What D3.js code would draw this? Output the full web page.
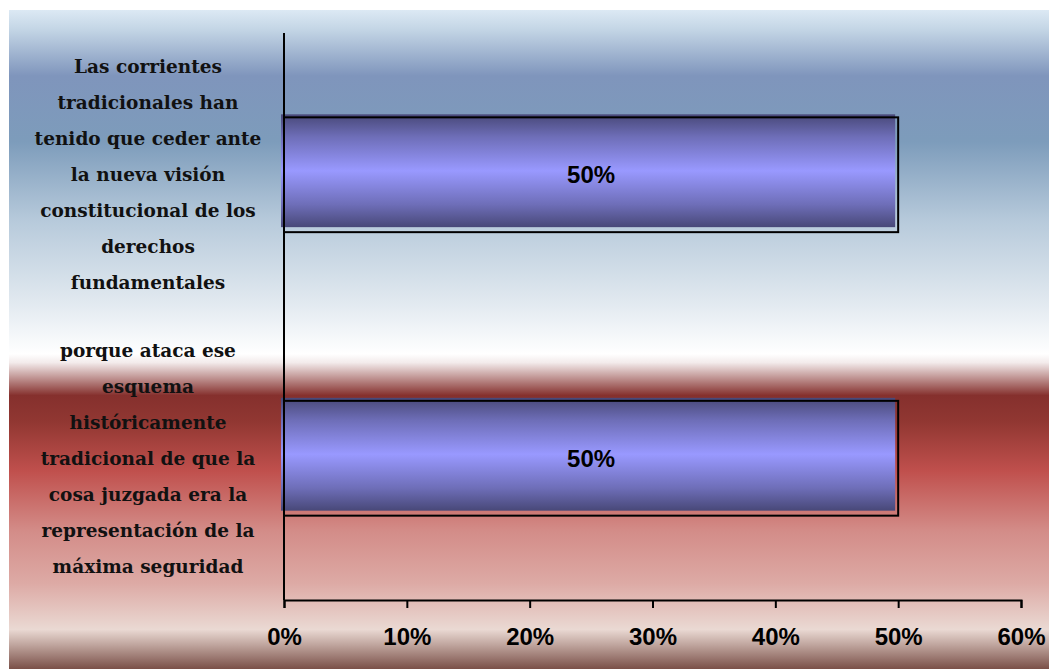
<!DOCTYPE html>
<html>
<head>
<meta charset="utf-8">
<script src="https://cdn.jsdelivr.net/npm/d3@7"></script>
<style>
  body { margin: 0; background: #fff; }
  svg { display: block; }
  .cat { font-family: "DejaVu Serif", serif; font-weight: bold; font-size: 18.5px; fill: #111; }
  .val, .tick text { font-family: "Liberation Sans", Arial, sans-serif; font-weight: bold; font-size: 24px; fill: #000; }
</style>
</head>
<body>
<svg id="chart" width="1049" height="669"></svg>
<script>
// categories, top to bottom
const categories = [
  "Las corrientes tradicionales han tenido que ceder ante la nueva visión constitucional de los derechos fundamentales",
  "porque ataca ese esquema históricamente tradicional de que la cosa juzgada era la representación de la máxima seguridad"
]
// wrapped tick labels as they appear
const labelLines = [
  ["Las corrientes", "tradicionales han", "tenido que ceder ante", "la nueva visión", "constitucional de los", "derechos", "fundamentales"],
  ["porque ataca ese", "esquema", "históricamente", "tradicional de que la", "cosa juzgada era la", "representación de la", "máxima seguridad"]
]
const values = [0.5, 0.5]
const xTicks = [0, 0.1, 0.2, 0.3, 0.4, 0.5, 0.6]

const svg = d3.select("#chart")
const defs = svg.append("defs")

// background gradient (blue top, white middle, red bottom)
const bg = defs.append("linearGradient").attr("id", "bgGrad")
  .attr("x1", 0).attr("y1", 0).attr("x2", 0).attr("y2", 1)
const bgStops = [
  [0, "#dce9f4"], [0.03, "#c3d5e5"], [0.1, "#7f95bc"], [0.2, "#7d9cbb"],
  [0.32, "#b7cadb"], [0.44, "#e0e8ef"], [0.522, "#ffffff"], [0.535, "#f3ebeb"],
  [0.585, "#85302d"], [0.625, "#913732"], [0.7, "#c0504d"], [0.79, "#d38c88"],
  [0.87, "#ddaaa5"], [0.94, "#ead9d3"], [0.962, "#c2a8a1"], [1, "#7a5048"]
]
bgStops.forEach(s => bg.append("stop").attr("offset", s[0]).attr("stop-color", s[1]))

// bar gradient: dark edges, light middle
const barGrad = defs.append("linearGradient").attr("id", "barGrad")
  .attr("x1", 0).attr("y1", 0).attr("x2", 0).attr("y2", 1)
const barStops = [[0, "#484878"], [0.2, "#6e6eb8"], [0.5, "#9999ff"], [0.8, "#6e6eb8"], [1, "#484878"]]
barStops.forEach(s => barGrad.append("stop").attr("offset", s[0]).attr("stop-color", s[1]))

svg.append("rect")
  .attr("x", 9).attr("y", 10).attr("width", 1040).attr("height", 659)
  .attr("fill", "url(#bgGrad)")

const plotTop = 33, plotBottom = 600, plotLeft = 284, plotRight = 1021

const x = d3.scaleLinear().domain([0, 0.6]).range([plotLeft, plotRight])
const y = d3.scaleBand().domain(categories).range([plotTop, plotBottom])
  .paddingInner(0.595).paddingOuter(0.2975)

// bars: fill slightly offset up-left from the outline
const bars = svg.append("g")
bars.selectAll(".barFill").data(values).enter()
  .append("rect")
  .attr("class", "barFill")
  .attr("x", x(0) - 3)
  .attr("y", (d, i) => y(categories[i]) - 3)
  .attr("width", d => x(d) - x(0))
  .attr("height", y.bandwidth() - 2)
  .attr("fill", "url(#barGrad)")
bars.selectAll(".barEdge").data(values).enter()
  .append("rect")
  .attr("class", "barEdge")
  .attr("x", x(0))
  .attr("y", (d, i) => y(categories[i]))
  .attr("width", d => x(d) - x(0))
  .attr("height", y.bandwidth())
  .attr("fill", "none")
  .attr("stroke", "#000")
  .attr("stroke-width", 2)

bars.selectAll(".val").data(values).enter()
  .append("text")
  .attr("class", "val")
  .attr("x", d => (x(0) + x(d)) / 2)
  .attr("y", (d, i) => y(categories[i]) + y.bandwidth() / 2)
  .attr("dy", "0.35em")
  .attr("text-anchor", "middle")
  .text(d => d3.format(".0%")(d))

// x axis
const xAxis = svg.append("g")
  .attr("transform", `translate(0,${plotBottom})`)
  .call(d3.axisBottom(x).tickValues(xTicks).tickFormat(d3.format(".0%")).tickSize(8).tickSizeOuter(8).tickPadding(20))
xAxis.select(".domain").attr("stroke", "#000").attr("stroke-width", 2)
xAxis.selectAll(".tick line").attr("stroke", "#000").attr("stroke-width", 2)
xAxis.selectAll(".tick text").attr("fill", "#000")

// y axis line
svg.append("line")
  .attr("x1", plotLeft).attr("x2", plotLeft)
  .attr("y1", plotTop).attr("y2", plotBottom)
  .attr("stroke", "#000").attr("stroke-width", 2)

// category labels
const lineGap = 36
const catG = svg.append("g")
categories.forEach((c, i) => {
  const lines = labelLines[i]
  const cy = y(c) + y.bandwidth() / 2
  const t = catG.append("text")
    .attr("class", "cat")
    .attr("text-anchor", "middle")
  lines.forEach((ln, j) => {
    t.append("tspan")
      .attr("x", 148)
      .attr("y", cy + (j - (lines.length - 1) / 2) * lineGap)
      .attr("dy", "0.35em")
      .text(ln)
  })
})
</script>
</body>
</html>
